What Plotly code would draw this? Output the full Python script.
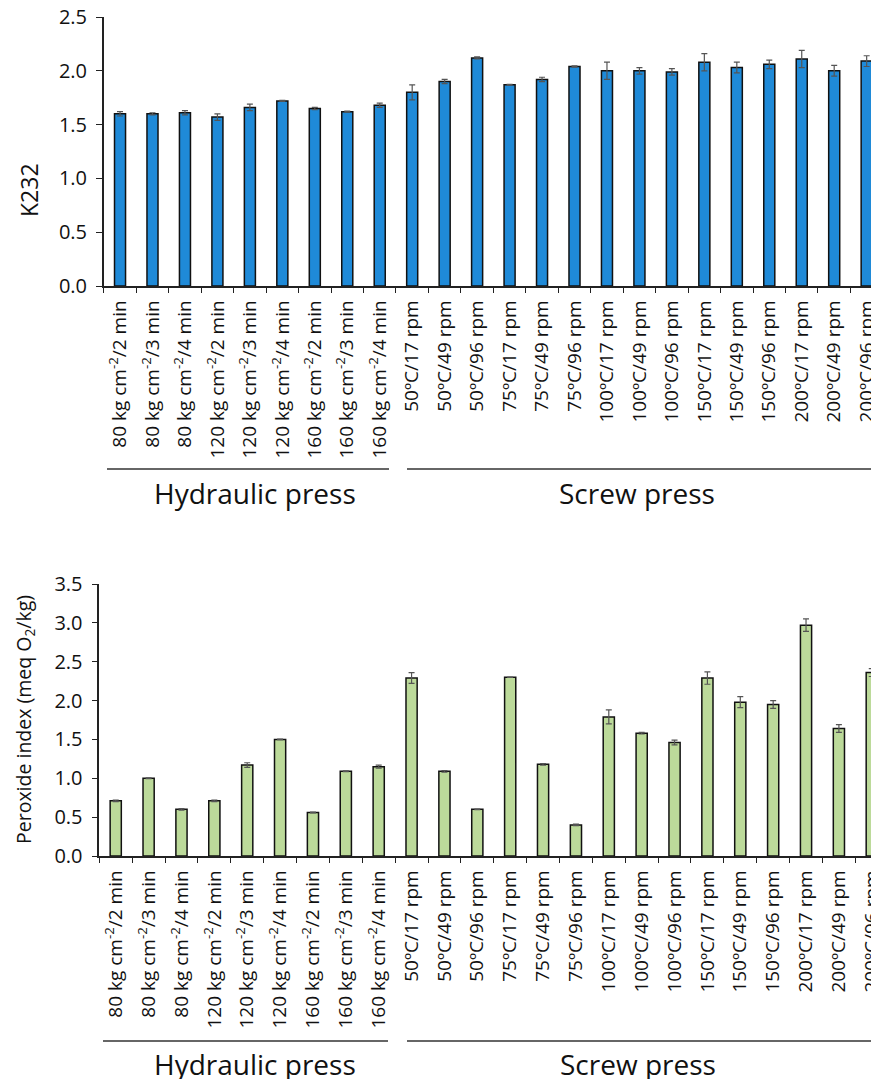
import plotly.graph_objects as go

categories = [
    "80 kg cm<sup>-2</sup>/2 min", "80 kg cm<sup>-2</sup>/3 min", "80 kg cm<sup>-2</sup>/4 min",
    "120 kg cm<sup>-2</sup>/2 min", "120 kg cm<sup>-2</sup>/3 min", "120 kg cm<sup>-2</sup>/4 min",
    "160 kg cm<sup>-2</sup>/2 min", "160 kg cm<sup>-2</sup>/3 min", "160 kg cm<sup>-2</sup>/4 min",
    "50ºC/17 rpm", "50ºC/49 rpm", "50ºC/96 rpm",
    "75ºC/17 rpm", "75ºC/49 rpm", "75ºC/96 rpm",
    "100ºC/17 rpm", "100ºC/49 rpm", "100ºC/96 rpm",
    "150ºC/17 rpm", "150ºC/49 rpm", "150ºC/96 rpm",
    "200ºC/17 rpm", "200ºC/49 rpm", "200ºC/96 rpm",
]
k232 = [1.60, 1.60, 1.61, 1.57, 1.66, 1.72, 1.65, 1.62, 1.68,
        1.80, 1.90, 2.12, 1.87, 1.92, 2.04, 2.00, 2.00, 1.99,
        2.08, 2.03, 2.06, 2.11, 2.00, 2.09]
k232_err = [0.02, 0.01, 0.02, 0.03, 0.03, 0.005, 0.01, 0.005, 0.02,
            0.07, 0.02, 0.01, 0.003, 0.02, 0.005, 0.08, 0.03, 0.03,
            0.08, 0.05, 0.04, 0.08, 0.05, 0.05]
peroxide = [0.71, 1.00, 0.60, 0.71, 1.17, 1.50, 0.56, 1.09, 1.15,
            2.29, 1.09, 0.60, 2.30, 1.18, 0.40, 1.79, 1.58, 1.46,
            2.29, 1.98, 1.95, 2.97, 1.64, 2.36]
peroxide_err = [0.01, 0.005, 0.01, 0.01, 0.03, 0.003, 0.005, 0.005, 0.02,
                0.07, 0.01, 0.005, 0.003, 0.01, 0.01, 0.09, 0.01, 0.03,
                0.08, 0.07, 0.05, 0.08, 0.05, 0.05]
groups = ["Hydraulic press", "Screw press"]

# page body has an 8px margin: build figure in page-pixel coordinates minus 8
OFF = 8
W, H = 879 - OFF, 1079 - OFF
FONT = "'Open Sans', Lato, sans-serif"

def px(x):
    return (x - OFF) / W

def py(y):
    return (H - (y - OFF)) / H

fig = go.Figure()
idx = list(range(len(categories)))
fig.add_trace(go.Bar(
    x=idx, y=k232, width=0.34, xaxis="x", yaxis="y",
    marker=dict(color="#1f8ad8", line=dict(color="#111111", width=1.5)),
    error_y=dict(type="data", array=k232_err, visible=True, color="#555555",
                 thickness=1.2, width=3),
    showlegend=False,
))
fig.add_trace(go.Bar(
    x=idx, y=peroxide, width=0.34, xaxis="x2", yaxis="y2",
    marker=dict(color="#bcda9a", line=dict(color="#111111", width=1.5)),
    error_y=dict(type="data", array=peroxide_err, visible=True, color="#555555",
                 thickness=1.2, width=3),
    showlegend=False,
))

xcommon = dict(
    tickmode="array", tickvals=idx, ticktext=categories, tickangle=-90,
    showline=True, linecolor="#222222", linewidth=1.5, showgrid=False,
    zeroline=False, ticks="outside", ticklen=5, tickcolor="rgba(0,0,0,0)",
    minor=dict(tickmode="linear", tick0=0.5, dtick=1, ticks="outside", ticklen=5,
               tickcolor="#222222", tickwidth=1, showgrid=False),
    tickfont=dict(family=FONT, size=19, color="#111111"), automargin=False,
    ticklabeloverflow="allow",
)
ycommon = dict(
    showline=True, linecolor="#222222", linewidth=1.5, showgrid=False,
    zeroline=False, ticks="outside", ticklen=6, tickcolor="#222222",
    tickfont=dict(family=FONT, size=20, color="#111111"), tickformat=".1f",
    automargin=False, ticklabeloverflow="allow", ticklabelstandoff=5,
)

fig.update_layout(
    template="none",
    width=W, height=H, margin=dict(l=0, r=0, t=0, b=0, autoexpand=False),
    paper_bgcolor="white", plot_bgcolor="white",
    xaxis=dict(xcommon, domain=[px(103.8), 1], range=[-0.5, 23.38], anchor="y"),
    yaxis=dict(ycommon, domain=[py(286), py(17)], range=[0, 2.5], dtick=0.5, anchor="x"),
    xaxis2=dict(xcommon, domain=[px(99.3), 1], range=[-0.5, 23.22], anchor="y2"),
    yaxis2=dict(ycommon, domain=[py(856), py(584)], range=[0, 3.5], dtick=0.5, anchor="x2"),
)

def ann(text, x, y, size, angle=0):
    return dict(text=text, x=px(x), y=py(y), xref="paper", yref="paper",
                xanchor="center", yanchor="middle", textangle=angle, showarrow=False,
                font=dict(family=FONT, size=size, color="#111111"))

annotations = [
    ann("K232", 29, 190, 23, -90),
    ann("Peroxide index (meq O<sub>2</sub>/kg)", 24, 720, 19.5, -90),
    ann(groups[0], 255, 493, 28),
    ann(groups[1], 637, 493, 28),
    ann(groups[0], 255, 1064, 28),
    ann(groups[1], 638, 1064, 28),
]
fig.update_layout(annotations=annotations)

shapes = []
for (x0, x1, y) in [(107, 389, 469), (407, 873, 469), (103, 388, 1041), (407, 879, 1041)]:
    shapes.append(dict(type="line", xref="paper", yref="paper", x0=px(x0), x1=px(x1),
                       y0=py(y), y1=py(y), line=dict(color="#333333", width=1.5)))
fig.update_layout(shapes=shapes)

fig.write_html("out.html")
